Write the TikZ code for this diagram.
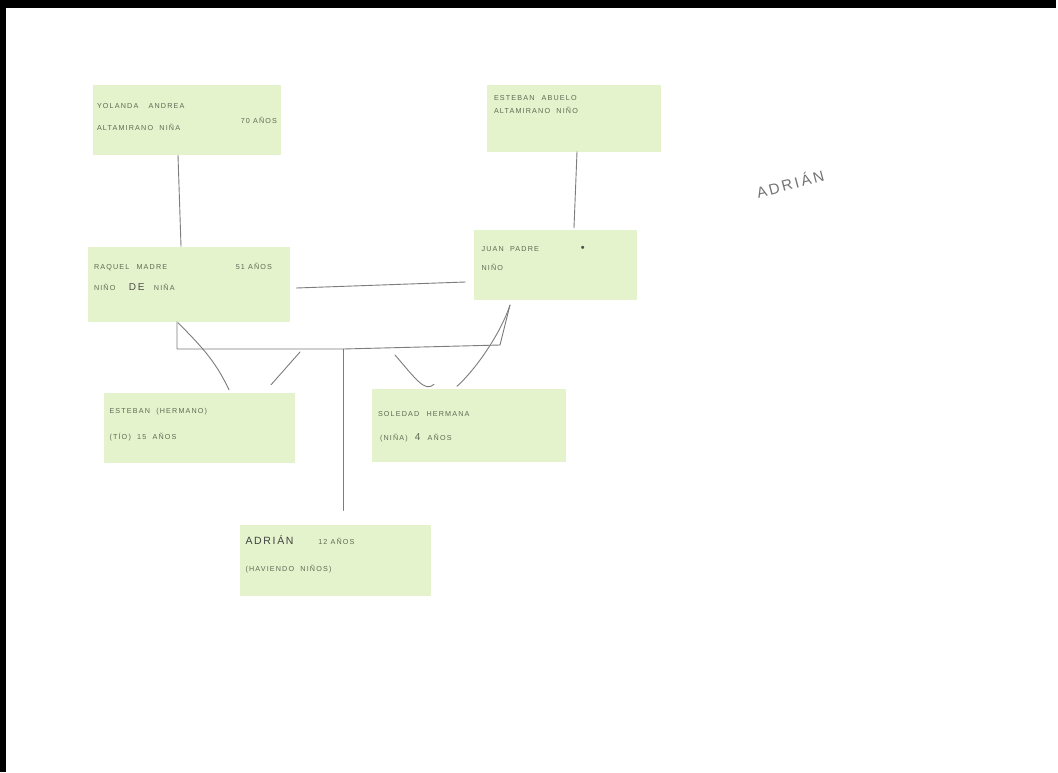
\documentclass[tikz,border=0pt]{standalone}
\usepackage{fontspec}
\setmainfont{Liberation Sans}
\newfontfamily\notefont[LetterSpace=16]{Liberation Sans}
\usetikzlibrary{calc}
\newcommand{\notebody}[3]{\begin{minipage}[t][#2][t]{#1}\vspace{0pt}#3\end{minipage}}
\begin{document}
\begin{tikzpicture}[x=1pt,y=-1pt,
  note/.style={fill=notegreen, draw=none, inner sep=0pt, align=left,
     font=\notefont\fontsize{7.2}{12}\selectfont, text=notetext},
  link/.style={draw=linegray, line width=0.9pt, line cap=round, line join=round}]
\definecolor{notegreen}{HTML}{E4F3CC}
\definecolor{notetext}{HTML}{5E6A54}
\definecolor{linegray}{HTML}{7C7C7C}
\useasboundingbox (0,0) rectangle (1058,772);
\fill[white] (0,0) rectangle (1058,772);
\fill[black] (0,0) rectangle (1056,8);
\fill[black] (0,0) rectangle (6,772);

% sticky notes
\node[note] (n1) at (187,120) {\notebody{188pt}{70pt}{\vspace*{18pt}\hspace*{4pt}YOLANDA\quad\ ANDREA\\[3pt]\hspace*{6pt}\hfill 70\ AÑOS\hspace*{4pt}\\[-5pt]\hspace*{4pt}ALTAMIRANO\ \ NIÑA}};
\node[note] (n2) at (574,118) {\notebody{174pt}{67pt}{\vspace*{11pt}\hspace*{7pt}ESTEBAN\quad ABUELO\\[1pt]\hspace*{7pt}ALTAMIRANO\ \ NIÑO}};
\node[note] (n3) at (189,284) {\notebody{202pt}{75pt}{\vspace*{17pt}\hspace*{6pt}RAQUEL\quad MADRE\hfill 51\ AÑOS\hspace*{18pt}\\[9pt]\hspace*{6pt}NIÑO\quad\ \ {\fontsize{10}{9}\selectfont\color{black!70}DE}\ \ \ NIÑA}};
\node[note] (n4) at (555,265) {\notebody{163pt}{70pt}{\vspace*{16pt}\hspace*{8pt}JUAN\ \ PADRE\hspace*{42pt}{\fontsize{11}{9}\selectfont\color{black!70}\textbullet}\\[7pt]\hspace*{8pt}NIÑO}};
\node[note] (n5) at (199,428) {\notebody{191pt}{70pt}{\vspace*{15pt}\hspace*{6pt}ESTEBAN\ \ (HERMANO)\\[14pt]\hspace*{6pt}(TÍO)\ \ 15\ \ AÑOS}};
\node[note] (n6) at (469,425) {\notebody{194pt}{73pt}{\vspace*{23pt}\hspace*{6pt}SOLEDAD\quad HERMANA\\[12pt]\hspace*{8pt}(NIÑA)\quad {\fontsize{10}{9}\selectfont 4}\quad AÑOS}};
\node[note] (n7) at (335,560) {\notebody{191pt}{71pt}{\vspace*{11pt}\hspace*{6pt}{\fontsize{10.5}{9}\selectfont\color{black!75}ADRIÁN}\qquad\quad\ 12\ AÑOS\\[15pt]\hspace*{6pt}(HAVIENDO\ \ NIÑOS)}};

% handwritten title
\node[rotate=15, text=black!55, font=\fontsize{15}{16}\selectfont] (title) at (790,183) {A\,D\,R\,I\,Á\,N};

% connectors
\coordinate (bl) at (177,349);
\coordinate (br) at (500,345);
\coordinate (bm) at (343,349);
\coordinate (c4) at (510,305);
\draw[link] ($(n1.south)+(-9,0)$) -- ($(n3.north)+(-8,0)$);
\draw[link] ($(n2.south)+(3,0)$) -- ($(n4.north)+(19,-2)$);
\draw[link] ($(n3.east)+(6,4)$) -- ($(n4.west)+(-8,17)$);
\draw[link] ($(n3.south)+(-12,0)$) -- (bl) -- (bm) -- (br) -- (c4);
\draw[link] ($(n3.south)+(-11,1)$) .. controls (200,345) and (215,360) .. ($(n5.north)+(30,-3)$);
\draw[link] (300,352) -- ($(n5.north)+(72,-8)$);
\draw[link] (c4) .. controls (500,335) and (475,370) .. ($(n6.north)+(-12,-2)$);
\draw[link] (395,355) .. controls (415,378) and (425,393) .. ($(n6.north)+(-35,-4)$);
\draw[link] (bm) -- ($(n7.north)+(8,-14)$);
\end{tikzpicture}
\end{document}
